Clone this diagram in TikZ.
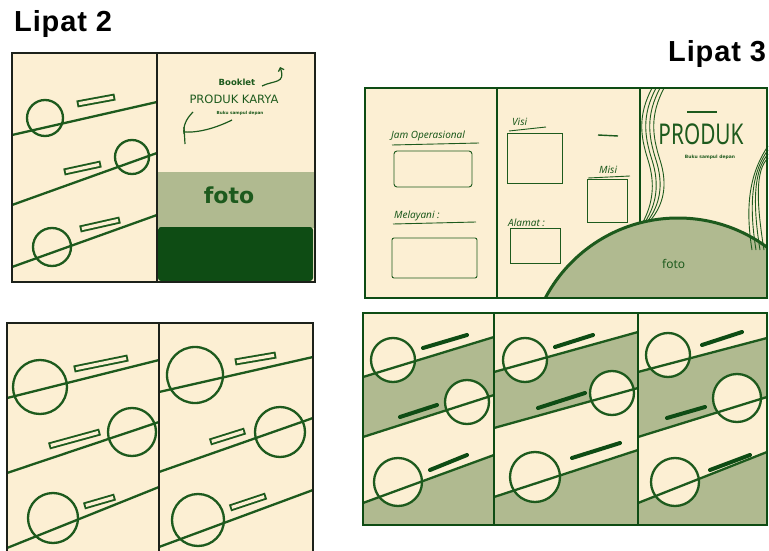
\documentclass[tikz,border=0pt]{standalone}
\usepackage{fontspec}
\setmainfont{Noto Sans}
\newfontfamily\titlefont[LetterSpace=3]{Liberation Sans}
\newfontfamily\markfont{DejaVu Sans}
\usetikzlibrary{arrows.meta}
\definecolor{paper}{HTML}{FCEFD3}
\definecolor{sage}{HTML}{B0BA90}
\definecolor{forest}{HTML}{0E4C14}
\definecolor{ink}{HTML}{1D5A1D}
\definecolor{frame}{HTML}{1C211A}

\begin{document}
\begin{tikzpicture}[x=1pt, y=-1pt,
  title/.style={font=\titlefont\bfseries\fontsize{29}{32}\selectfont, anchor=base west, inner sep=0pt},
  kframe/.style={draw=frame, line width=1.9pt},
  gframe/.style={draw=forest, line width=1.9pt},
  sk/.style={draw=ink, line width=2.3pt},
  thinsk/.style={draw=ink, line width=0.9pt},
  barout/.style={draw=ink, line width=7pt},
  barin/.style={draw=paper, line width=3.2pt, shorten <=1.9pt, shorten >=1.9pt},
  blot/.style={draw=forest, line width=4pt, line cap=round},
  hand/.style={text=ink, inner sep=0pt, anchor=south west, font=\itshape\fontsize{10}{12}\selectfont},
  scrawl/.style={text=ink, inner sep=0pt, font=\markfont\bfseries}
]
\useasboundingbox (0,0) rectangle (769,551);

\node[title] (lip2) at (14,32) {Lipat 2};
\node[title] (lip3) at (668,62) {Lipat 3};

% lipat 2, atas
\fill[paper] (12,53) rectangle (315,282);
\fill[sage] (158,172) rectangle (314,228);
\fill[forest, rounded corners=3pt] (158,227) rectangle (313,281);
\foreach \ya/\yb in {135/102, 205/153, 267/215}
  \draw[sk] (12,\ya) -- (157,\yb);
\foreach \cx/\cy/\r in {45/118/18, 132/157/17, 52/247/19}
  \draw[sk] (\cx,\cy) circle[radius=\r];
\foreach \ax/\ay/\bx/\by in {77/104/115/97, 64/172/101/164, 80/229/120/220} {
  \draw[barout] (\ax,\ay) -- (\bx,\by);
  \draw[barin] (\ax,\ay) -- (\bx,\by);
}
\node[scrawl, font=\markfont\bfseries\fontsize{8.5}{10}\selectfont] (booklet) at (237,82) {Booklet};
\node[scrawl, font=\markfont\fontsize{11.5}{14}\selectfont] (karya) at (234,99) {PRODUK KARYA};
\node[scrawl, font=\markfont\bfseries\fontsize{4.2}{5}\selectfont] (sub2) at (240,113) {Buku sampul depan};
\node[scrawl, font=\markfont\bfseries\fontsize{22}{26}\selectfont] (foto2) at (229,195) {foto};
\draw[ink, line width=1.2pt, -{Straight Barb[length=3pt]}] (262,86) .. controls (274,80) and (286,84) .. (280,67);
\draw[ink, line width=1.2pt] (193,112) .. controls (186,119) and (183,126) .. (184,134);
\draw[ink, line width=1.2pt] (184,132) .. controls (200,133) and (218,127) .. (232,120);
\draw[ink, line width=1.2pt] (184,127) -- (185,144);
\draw[kframe] (12,53) rectangle (315,282);
\draw[kframe] (157,53) -- (157,282);

% lipat 2, bawah
\fill[paper] (7,323) rectangle (313,556);
\foreach \ax/\ay/\bx/\by in {7/398/159/360, 7/473/159/422, 7/548/159/487,
                              159/392/313/357, 159/472/313/418, 159/547/313/490}
  \draw[sk] (\ax,\ay) -- (\bx,\by);
\foreach \cx/\cy/\r in {40/387/27, 132/432/24, 53/518/25, 195/375/28, 280/432/25, 198/520/26}
  \draw[sk] (\cx,\cy) circle[radius=\r];
\foreach \ax/\ay/\bx/\by in {74/369/128/358, 49/446/100/432, 84/506/115/497,
                              235/362/276/355, 210/442/245/431, 230/508/266/496} {
  \draw[barout] (\ax,\ay) -- (\bx,\by);
  \draw[barin] (\ax,\ay) -- (\bx,\by);
}
\draw[kframe] (7,323) rectangle (313,556);
\draw[kframe] (159,323) -- (159,556);

% lipat 3, atas
\fill[paper] (365,88) rectangle (767,298);
\draw[gframe] (497,88) -- (497,298);
\draw[gframe] (640,88) -- (640,298);
\begin{scope}
  \clip (365,88) rectangle (767,298);
  \fill[sage] (678,368) circle[radius=150];
  \draw[ink, line width=3pt] (678,368) circle[radius=150];
\end{scope}
\node[hand] (jam) at (391,141) {Jam Operasional};
\draw[thinsk] (392,145) -- (479,143);
\draw[thinsk, rounded corners=3pt] (394,151) rectangle (472,187);
\node[hand] (layani) at (394,221) {Melayani :};
\draw[thinsk] (393,224) -- (476,222);
\draw[thinsk, rounded corners=2pt] (392,238) rectangle (477,278);
\node[hand] (visi) at (512,126) {Visi};
\draw[thinsk] (509,131) -- (546,127);
\draw[thinsk] (507,133) rectangle (562,183);
\draw[ink, line width=1.4pt] (598,135) -- (618,136);
\node[hand] (misi) at (599,174) {Misi};
\draw[thinsk] (588,178) -- (630,176);
\draw[thinsk] (587,179) rectangle (627,222);
\node[hand] (alamat) at (508,227) {Alamat :};
\draw[thinsk] (510,228) rectangle (560,263);
\node[hand, font=\fontsize{12}{14}\selectfont] (foto3) at (662,269) {foto};
\node[text=ink, font=\fontsize{26}{28}\selectfont] (produk) at (701,134) {\scalebox{0.8}[1.1]{PRODUK}};
\draw[ink, line width=1.2pt] (687,112) -- (717,112);
\node[scrawl, font=\markfont\bfseries\fontsize{4.5}{6}\selectfont] (sub3) at (710,157) {Buku sampul depan};
\foreach \d in {0,4,8,12}
  \draw[thinsk] (652+\d,88) .. controls (638+\d,115) and (640+\d,135) .. (648+\d,160)
    .. controls (656+\d,185) and (652+\d,205) .. (643+\d*0.5,222);
\foreach \d in {0,4,8,12}
  \draw[thinsk] (768,146+\d) .. controls (752+\d*0.3,170) and (744+\d,200) .. (752+\d,250);
\draw[gframe] (365,88) rectangle (767,298);

% lipat 3, bawah
\fill[paper] (363,313) rectangle (767,525);
\fill[sage] (363,377) -- (494,337) -- (494,395) -- (363,437) -- cycle;
\fill[sage] (363,503) -- (494,455) -- (494,525) -- (363,525) -- cycle;
\fill[sage] (494,372) -- (638,332) -- (638,388) -- (494,428) -- cycle;
\fill[sage] (494,497) -- (638,450) -- (638,525) -- (494,525) -- cycle;
\fill[sage] (638,372) -- (767,338) -- (767,397) -- (638,437) -- cycle;
\fill[sage] (638,503) -- (767,452) -- (767,525) -- (638,525) -- cycle;
\foreach \cx/\cy/\r in {393/360/22, 467/402/22, 398/482/24, 525/360/22, 612/393/22,
                        535/477/25, 668/355/22, 737/398/24, 675/482/24}
  \draw[sk, fill=paper] (\cx,\cy) circle[radius=\r];
\foreach \ax/\ay/\bx/\by in {363/377/494/337, 363/437/494/395, 363/503/494/455,
                              494/372/638/332, 494/428/638/388, 494/497/638/450,
                              638/372/767/338, 638/437/767/397, 638/503/767/452}
  \draw[sk] (\ax,\ay) -- (\bx,\by);
\foreach \ax/\ay/\bx/\by in {423/348/467/335, 400/417/437/405, 430/470/467/455,
                              555/347/593/335, 538/408/585/393, 572/458/620/443,
                              702/345/742/332, 667/418/705/407, 710/470/750/455}
  \draw[blot] (\ax,\ay) -- (\bx,\by);
\draw[gframe] (363,313) rectangle (767,525);
\draw[gframe] (494,313) -- (494,525);
\draw[gframe] (638,313) -- (638,525);
\end{tikzpicture}
\end{document}
